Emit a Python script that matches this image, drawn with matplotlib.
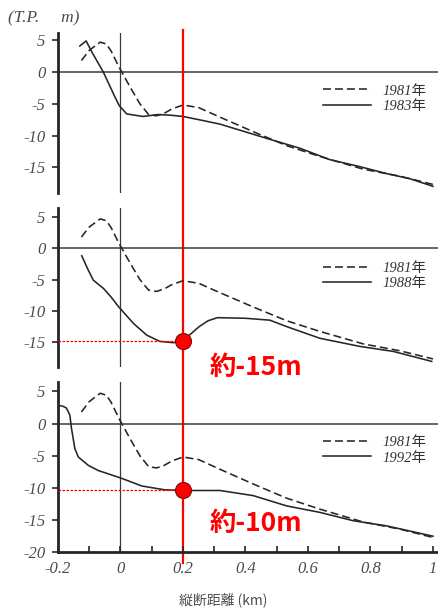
import matplotlib.pyplot as plt
import matplotlib.transforms as mtransforms
from matplotlib.lines import Line2D
from matplotlib.ticker import MultipleLocator

plt.rcParams['font.family'] = ['Liberation Serif', 'Noto Sans CJK JP', 'DejaVu Sans']
plt.rcParams['axes.unicode_minus'] = False

# 縦断距離 (km) / 標高 (T.P. m)
dist_1981 = [-0.125, -0.10, -0.065, -0.045, -0.03, -0.005, 0.03, 0.062, 0.09, 0.115,
             0.14, 0.165, 0.2, 0.25, 0.318, 0.425, 0.532, 0.638, 0.777, 0.894, 1.0]
elev_1981 = [1.8, 3.4, 4.7, 4.4, 3.3, 0.8, -2.3, -5.0, -6.7, -6.9,
             -6.5, -5.8, -5.2, -5.6, -7.1, -9.4, -11.6, -13.3, -15.3, -16.4, -17.7]

dist_1983 = [-0.13, -0.11, -0.09, -0.055, -0.02, -0.004, 0.02, 0.072, 0.12, 0.16,
             0.2, 0.25, 0.318, 0.478, 0.574, 0.67, 0.766, 0.852, 0.926, 1.0]
elev_1983 = [4.1, 4.9, 3.0, 0.0, -3.7, -5.3, -6.6, -7.0, -6.7, -6.8,
             -7.0, -7.5, -8.2, -10.6, -12.0, -13.8, -14.9, -16.0, -16.8, -18.0]

dist_1988 = [-0.124, -0.105, -0.087, -0.055, -0.03, -0.007, 0.041, 0.084, 0.126, 0.169,
             0.2, 0.25, 0.28, 0.31, 0.40, 0.478, 0.53, 0.638, 0.766, 0.873, 0.996]
elev_1988 = [-1.2, -3.3, -5.1, -6.4, -7.8, -9.3, -12.0, -13.9, -14.9, -15.1,
             -14.8, -12.6, -11.6, -11.1, -11.2, -11.5, -12.5, -14.4, -15.7, -16.5, -18.1]

dist_1992 = [-0.199, -0.185, -0.173, -0.162, -0.157, -0.146, -0.135, -0.103, -0.071, 0.003,
             0.068, 0.142, 0.2, 0.318, 0.425, 0.532, 0.638, 0.745, 0.852, 1.0]
elev_1992 = [2.8, 2.7, 2.4, 1.3, -0.7, -3.9, -5.2, -6.5, -7.3, -8.5,
             -9.7, -10.3, -10.4, -10.4, -11.2, -12.8, -13.8, -15.1, -15.9, -17.5]

later_years = ['1983年', '1988年', '1992年']
later_dist = [dist_1983, dist_1988, dist_1992]
later_elev = [elev_1983, elev_1988, elev_1992]

# 0.2km 地点の最深部 (1988年, 1992年)
mark_x = 0.2
mark_elev = [None, -14.8, -10.4]
mark_text = [None, '約-15m', '約-10m']
mark_offset = [None, (27, -27), (27, -33)]

y_ticks = [5, 0, -5, -10, -15]
x_ticks = [-0.2, 0, 0.2, 0.4, 0.6, 0.8, 1.0]
x_ticklabels = ['-0.2', '0', '0.2', '0.4', '0.6', '0.8', '1']

fig = plt.figure(figsize=(4.38, 6.10), dpi=100)

rects = [[0.1324, 0.6836, 0.8676, 0.2623],
         [0.1324, 0.3989, 0.8676, 0.2602],
         [0.1324, 0.0946, 0.8676, 0.2797]]
ylims = [(-19.05, 6.14), (-18.94, 6.45), (-20.0, 6.5)]
legend_y = [0.59, 0.573, 0.598]

label_font = dict(family=['Liberation Serif', 'Noto Sans CJK JP'], style='italic')
ink = '#262626'
grey = '#4d4d4d'

axes = []
for i in range(3):
    ax = fig.add_axes(rects[i])
    ax.patch.set_visible(False)
    ax.set_xlim(-0.2, 1.016)
    ax.set_ylim(*ylims[i])
    for side in ['top', 'right']:
        ax.spines[side].set_visible(False)
    ax.spines['left'].set_linewidth(2.0)
    ax.spines['left'].set_color(ink)

    ax.axhline(0, color='#3a3a3a', lw=1.1, zorder=1)
    ax.axvline(0, color='#3a3a3a', lw=0.9, zorder=1)

    l81, = ax.plot(dist_1981, elev_1981, color=ink, lw=1.15, dashes=(5, 2.5))
    lnew, = ax.plot(later_dist[i], later_elev[i], color=ink, lw=1.15)

    ticks = y_ticks + ([-20] if i == 2 else [])
    ax.set_yticks(ticks)
    ax.set_yticklabels([str(t) for t in ticks], color=grey, fontsize=12, **label_font)
    ax.tick_params(axis='y', direction='out', length=4, width=1.2, color=ink, pad=5)

    if i < 2:
        ax.spines['bottom'].set_visible(False)
        ax.set_xticks([])
    else:
        ax.spines['bottom'].set_linewidth(2.0)
        ax.spines['bottom'].set_color(ink)
        ax.set_xticks(x_ticks)
        ax.set_xticklabels(x_ticklabels, color=grey, fontsize=12, **label_font)
        ax.xaxis.set_minor_locator(MultipleLocator(0.1))
        ax.tick_params(axis='x', which='both', direction='in', length=4, width=1.2,
                       color=ink, pad=6)

    ax.legend([l81, lnew], ['1981年', later_years[i]], loc='center left',
              bbox_to_anchor=(0.697, legend_y[i]), frameon=False, handlelength=3.3,
              handletextpad=0.8, labelspacing=0.15, borderpad=0, borderaxespad=0,
              prop=dict(family=['Liberation Serif', 'Noto Sans CJK JP'], style='italic', size=10.5),
              labelcolor='#333333')

    if mark_elev[i] is not None:
        ax.plot([-0.2, mark_x], [mark_elev[i], mark_elev[i]], color='red', lw=0.9,
                dashes=(2, 1.2), zorder=4)
        ax.plot([mark_x], [mark_elev[i]], 'o', color='red', markersize=11.5,
                markeredgecolor='#8b0000', markeredgewidth=0.8, zorder=6, clip_on=False)
        ax.annotate(mark_text[i], xy=(mark_x, mark_elev[i]), xytext=mark_offset[i],
                    textcoords='offset pixels', ha='left', va='center', color='red',
                    fontsize=19, fontweight='bold', family=['Noto Sans CJK JP'],
                    annotation_clip=False, zorder=7)
    axes.append(ax)

# 0.2km の縦線 (全パネルを貫く)
trans = mtransforms.blended_transform_factory(axes[0].transData, fig.transFigure)
axes[0].add_line(Line2D([mark_x, mark_x], [1 - 30 / 610, 1 - 563 / 610], transform=trans,
                        color='red', lw=1.6, clip_on=False, zorder=3))

fig.text(8 / 438, 1 - 18 / 610, '(T.P.     m)', fontsize=12.5, color=grey,
         va='center', ha='left', **label_font)
fig.text(223 / 438, 1 - 600 / 610, '縦断距離 (km)', fontsize=10, color=grey,
         va='center', ha='center', family=['Noto Sans CJK JP'])

fig.savefig('out.png', dpi=100)
